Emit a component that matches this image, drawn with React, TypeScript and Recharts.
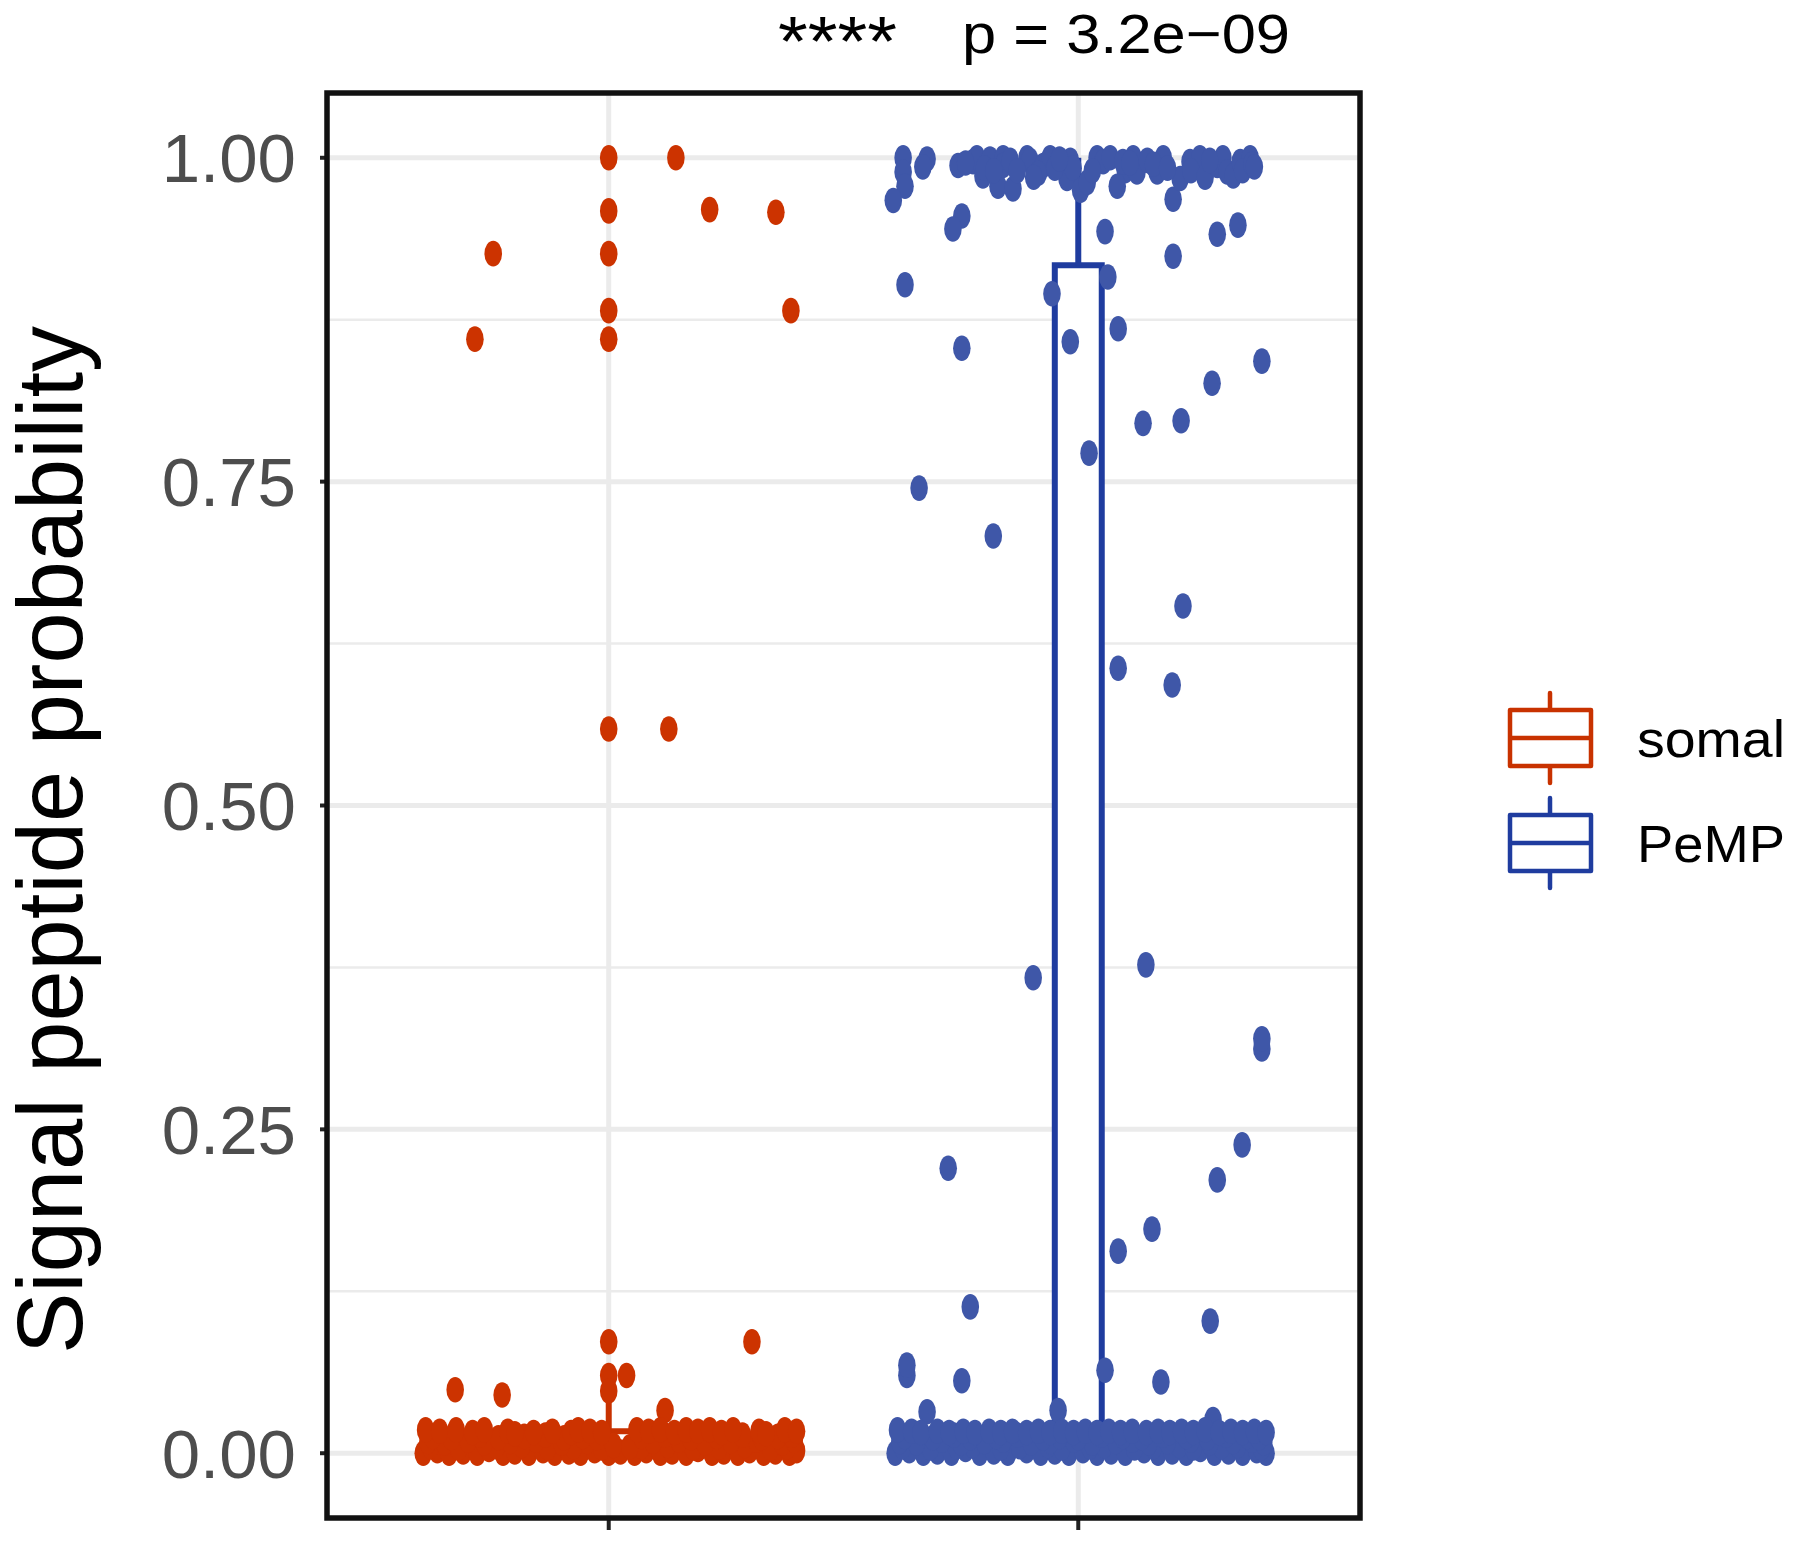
import React from "react";
import { ScatterChart, Scatter, XAxis, YAxis, ReferenceLine, ReferenceArea } from "recharts";

const FONT = '"Liberation Sans", Arial, Helvetica, sans-serif';

// groups and their x positions on the discrete axis
const categories = ["somal", "PeMP"];
const categoryPos = [1, 2];

// box plot stats per group
const boxLower = [0, 0];
const boxQ1 = [0.001, 0.002];
const boxMedian = [0.004, 0.01];
const boxQ3 = [0.017, 0.917];
const boxUpper = [0.048, 1.0];

const yTicks = [0, 0.25, 0.5, 0.75, 1];
const yMinor = [0.125, 0.375, 0.625, 0.875];

// jittered points [x, y]
const somalPoints: [number, number][] = [
  [1.0, 1.0], [1.143, 1.0], [1.0, 0.959], [1.215, 0.96], [1.356, 0.958], [0.754, 0.926], [1.0, 0.926],
  [1.0, 0.882], [1.388, 0.882], [0.715, 0.86], [1.0, 0.86], [1.0, 0.559], [1.128, 0.559],
  [1.0, 0.086], [1.305, 0.086], [1.0, 0.06], [1.038, 0.06], [1.0, 0.048], [0.673, 0.049], [0.773, 0.045], [1.12, 0.033],
  // dense band near zero
  [0.605, 0.0], [0.635, 0.002], [0.66, 0.0], [0.69, 0.001], [0.72, 0.0], [0.745, 0.003], [0.775, 0.0], [0.8, 0.001],
  [0.83, 0.0], [0.86, 0.002], [0.885, 0.0], [0.915, 0.001], [0.94, 0.0], [0.97, 0.002], [1.0, 0.0], [1.025, 0.001],
  [1.055, 0.0], [1.08, 0.002], [1.11, 0.0], [1.135, 0.001], [1.165, 0.0], [1.19, 0.003], [1.22, 0.0], [1.245, 0.001],
  [1.275, 0.0], [1.3, 0.002], [1.33, 0.0], [1.355, 0.001], [1.385, 0.0], [1.4, 0.002],
  [0.62, 0.005], [0.68, 0.004], [0.76, 0.005], [0.815, 0.006], [0.87, 0.004], [0.925, 0.005], [0.985, 0.004],
  [1.07, 0.005], [1.125, 0.006], [1.18, 0.004], [1.235, 0.005], [1.29, 0.006], [1.345, 0.004], [1.38, 0.005],
  [0.615, 0.009], [0.65, 0.008], [0.7, 0.01], [0.735, 0.008], [0.79, 0.009], [0.845, 0.01], [0.9, 0.008], [0.955, 0.009],
  [1.01, 0.006], [1.045, 0.005], [1.095, 0.009], [1.15, 0.01], [1.205, 0.008], [1.26, 0.009], [1.315, 0.01], [1.37, 0.008], [1.395, 0.01],
  [0.625, 0.013], [0.665, 0.012], [0.725, 0.014], [0.765, 0.012], [0.82, 0.013], [0.865, 0.014], [0.905, 0.012], [0.945, 0.013],
  [0.975, 0.012], [1.07, 0.013], [1.12, 0.014], [1.175, 0.012], [1.23, 0.013], [1.285, 0.014], [1.325, 0.012], [1.36, 0.013], [1.39, 0.014],
  [0.61, 0.018], [0.64, 0.017], [0.675, 0.018], [0.71, 0.016], [0.735, 0.018], [0.785, 0.017], [0.8, 0.015], [0.84, 0.016],
  [0.88, 0.017], [0.92, 0.016], [0.935, 0.018], [0.96, 0.017], [0.985, 0.016], [1.06, 0.018], [1.085, 0.017], [1.11, 0.018],
  [1.14, 0.016], [1.165, 0.018], [1.19, 0.017], [1.215, 0.018], [1.24, 0.016], [1.265, 0.018], [1.32, 0.017], [1.335, 0.015],
  [1.375, 0.018], [1.4, 0.017],
];

const pempPoints: [number, number][] = [
  // cluster near 1
  [1.627, 1.0], [1.627, 0.989], [1.631, 0.978], [1.606, 0.967], [1.678, 0.999], [1.669, 0.993], [1.744, 0.994], [1.752, 0.955], [1.733, 0.945],
  [1.776, 0.997], [1.784, 1.0], [1.797, 0.986], [1.812, 0.999], [1.829, 0.978], [1.84, 1.0], [1.84, 0.994], [1.855, 0.998], [1.861, 0.976],
  [1.891, 1.0], [1.897, 0.998], [1.925, 0.994], [1.94, 1.0], [1.8, 0.992], [1.87, 0.99], [1.915, 0.988],
  [1.976, 0.984], [1.983, 0.998], [1.989, 0.992], [2.005, 0.975],
  [2.019, 0.981], [2.04, 1.0], [2.053, 0.997], [2.068, 1.0], [2.1, 0.99],
  [2.083, 0.978], [2.095, 0.997], [2.117, 1.0], [2.125, 0.989], [2.147, 0.998], [2.168, 0.989], [2.181, 1.0], [2.16, 0.995],
  [2.202, 0.968], [2.202, 0.924], [2.217, 0.984], [2.238, 0.997], [2.259, 1.0], [2.24, 0.99], [2.27, 0.985],
  [2.296, 0.994], [2.308, 1.0], [2.317, 0.989], [2.33, 0.986], [2.345, 0.997], [2.366, 1.0], [2.35, 0.99], [2.37, 0.995],
  [1.76, 0.996], [1.82, 0.99], [1.95, 0.992], [2.03, 0.99], [2.11, 0.996], [2.19, 0.992], [2.28, 0.998], [2.375, 0.993],
  [1.905, 0.985], [1.96, 0.999],
  [2.057, 0.943], [2.296, 0.941], [2.34, 0.948],
  // spread
  [1.631, 0.902], [1.752, 0.853], [1.944, 0.895], [2.063, 0.908], [1.983, 0.858], [2.085, 0.868], [2.391, 0.843],
  [2.285, 0.826], [2.138, 0.795], [2.219, 0.797], [2.023, 0.772], [1.661, 0.745], [1.819, 0.708], [2.223, 0.654],
  [2.085, 0.606], [2.2, 0.593], [1.904, 0.367], [2.144, 0.377], [2.391, 0.312], [2.391, 0.32], [2.349, 0.238],
  [2.296, 0.211], [1.723, 0.22], [2.157, 0.173], [2.085, 0.156], [1.77, 0.113], [2.281, 0.102],
  [1.635, 0.06], [1.635, 0.068], [1.752, 0.056], [2.057, 0.064], [2.176, 0.055], [1.678, 0.032], [1.957, 0.033], [2.287, 0.026],
  // dense band near zero
  [1.61, 0.0], [1.64, 0.002], [1.67, 0.0], [1.7, 0.001], [1.73, 0.0], [1.76, 0.003], [1.79, 0.0], [1.82, 0.001],
  [1.85, 0.0], [1.89, 0.002], [1.92, 0.0], [1.95, 0.001], [1.98, 0.0], [2.01, 0.002], [2.04, 0.0], [2.07, 0.001],
  [2.1, 0.0], [2.14, 0.002], [2.17, 0.0], [2.2, 0.001], [2.23, 0.0], [2.26, 0.003], [2.29, 0.0], [2.32, 0.001],
  [2.35, 0.0], [2.38, 0.002], [2.4, 0.0],
  [1.625, 0.005], [1.685, 0.004], [1.74, 0.005], [1.775, 0.006], [1.835, 0.004], [1.875, 0.005], [1.935, 0.006], [1.965, 0.004],
  [2.025, 0.005], [2.055, 0.006], [2.12, 0.004], [2.16, 0.005], [2.215, 0.006], [2.245, 0.004], [2.305, 0.005], [2.34, 0.006], [2.39, 0.004],
  [1.62, 0.009], [1.655, 0.008], [1.71, 0.01], [1.75, 0.008], [1.8, 0.009], [1.84, 0.01], [1.9, 0.008], [1.94, 0.009],
  [1.99, 0.01], [2.03, 0.008], [2.08, 0.009], [2.115, 0.01], [2.15, 0.008], [2.19, 0.009], [2.24, 0.01], [2.28, 0.008],
  [2.33, 0.009], [2.37, 0.01], [2.395, 0.008],
  [1.63, 0.013], [1.69, 0.012], [1.735, 0.014], [1.77, 0.012], [1.825, 0.013], [1.87, 0.014], [1.925, 0.012], [1.96, 0.013],
  [2.0, 0.012], [2.05, 0.014], [2.095, 0.013], [2.135, 0.012], [2.18, 0.014], [2.23, 0.013], [2.275, 0.012], [2.315, 0.014],
  [2.36, 0.013], [2.385, 0.012],
  [1.615, 0.018], [1.645, 0.017], [1.665, 0.016], [1.7, 0.017], [1.725, 0.016], [1.755, 0.017], [1.78, 0.016], [1.81, 0.017],
  [1.835, 0.016], [1.86, 0.017], [1.89, 0.016], [1.915, 0.017], [1.94, 0.016], [1.965, 0.017], [1.99, 0.016], [2.015, 0.017],
  [2.04, 0.016], [2.065, 0.017], [2.09, 0.016], [2.115, 0.017], [2.145, 0.016], [2.17, 0.017], [2.195, 0.016], [2.22, 0.017],
  [2.245, 0.016], [2.27, 0.018], [2.3, 0.016], [2.325, 0.017], [2.35, 0.016], [2.375, 0.017], [2.4, 0.016],
];

const pointColors = ["#CC3300", "#3F57A8"];
const boxColors = ["#C83200", "#1F3C9F"];
const BOX_HALF = 0.05;

const toObjs = (arr: [number, number][]) => arr.map(([x, y]) => ({ x, y }));

const makeDot = (color: string) => (props: any) => {
  if (props.cx == null || props.cy == null) return <g />;
  return <ellipse cx={props.cx} cy={props.cy} rx={8.8} ry={12.8} fill={color} />;
};

export default function App() {
  return (
    <div style={{ position: "absolute", left: 0, top: 0, width: 1800, height: 1549, background: "#fff", overflow: "hidden" }}>
      <ScatterChart width={1800} height={1549} margin={{ top: 93, right: 440, bottom: 0, left: 0 }}>
        <XAxis
          type="number"
          dataKey="x"
          domain={[0.4, 2.6]}
          allowDataOverflow
          ticks={categoryPos}
          tickFormatter={() => ""}
          height={31}
          tickSize={12}
          axisLine={false}
          tickLine={{ stroke: "#222", strokeWidth: 4 }}
        />
        <YAxis
          type="number"
          dataKey="y"
          domain={[-0.05, 1.05]}
          allowDataOverflow
          ticks={yTicks}
          tickFormatter={(v: number) => v.toFixed(2)}
          width={327}
          tickSize={7}
          tickMargin={24}
          axisLine={false}
          tickLine={{ stroke: "#222", strokeWidth: 4 }}
          tick={{ fill: "#4D4D4D", fontSize: 69, fontFamily: FONT }}
        />
        {yMinor.map((v) => (
          <ReferenceLine key={`mn${v}`} y={v} stroke="#EBEBEB" strokeWidth={2.5} zIndex={-60} />
        ))}
        {yTicks.map((v) => (
          <ReferenceLine key={`mj${v}`} y={v} stroke="#EBEBEB" strokeWidth={5} zIndex={-50} />
        ))}
        {categoryPos.map((v) => (
          <ReferenceLine key={`vx${v}`} x={v} stroke="#EBEBEB" strokeWidth={5} zIndex={-50} />
        ))}
        {categoryPos.map((c, i) => (
          <ReferenceArea
            key={`box${i}`}
            x1={c - BOX_HALF}
            x2={c + BOX_HALF}
            y1={boxQ1[i]}
            y2={boxQ3[i]}
            fill="#fff"
            fillOpacity={1}
            stroke={boxColors[i]}
            strokeWidth={6}
            zIndex={100}
          />
        ))}
        {categoryPos.map((c, i) => (
          <ReferenceLine
            key={`wu${i}`}
            segment={[{ x: c, y: boxQ3[i] }, { x: c, y: boxUpper[i] }]}
            stroke={boxColors[i]}
            strokeWidth={6}
            zIndex={110}
          />
        ))}
        {categoryPos.map((c, i) => (
          <ReferenceLine
            key={`wl${i}`}
            segment={[{ x: c, y: boxLower[i] }, { x: c, y: boxQ1[i] }]}
            stroke={boxColors[i]}
            strokeWidth={6}
            zIndex={110}
          />
        ))}
        {categoryPos.map((c, i) => (
          <ReferenceLine
            key={`md${i}`}
            segment={[{ x: c - BOX_HALF, y: boxMedian[i] }, { x: c + BOX_HALF, y: boxMedian[i] }]}
            stroke={boxColors[i]}
            strokeWidth={6}
            zIndex={110}
          />
        ))}
        <Scatter name={categories[0]} data={toObjs(somalPoints)} shape={makeDot(pointColors[0])} isAnimationActive={false} />
        <Scatter name={categories[1]} data={toObjs(pempPoints)} shape={makeDot(pointColors[1])} isAnimationActive={false} />
        <ReferenceArea x1={0.4} x2={2.6} y1={-0.05} y2={1.05} fill="none" fillOpacity={0} stroke="#111" strokeWidth={5.5} zIndex={900} />
      </ScatterChart>
      <svg width={1800} height={1549} style={{ position: "absolute", left: 0, top: 0, pointerEvents: "none" }}>
        <text x={778} y={66} fontSize={70} textLength={119} lengthAdjust="spacingAndGlyphs" fontFamily={FONT} fill="#000">****</text>
        <text x={962} y={53} fontSize={56} textLength={328} lengthAdjust="spacingAndGlyphs" fontFamily={FONT} fill="#000">p = 3.2e−09</text>
        <text transform="translate(82,840) rotate(-90)" textAnchor="middle" fontSize={92} fontFamily={FONT} fill="#000">
          Signal peptide probability
        </text>
        {categories.map((name, i) => {
          const top = 710 + i * 105;
          return (
            <g key={name}>
              <line x1={1550} x2={1550} y1={top - 17} y2={top} stroke={boxColors[i]} strokeWidth={4.5} strokeLinecap="round" />
              <line x1={1550} x2={1550} y1={top + 56} y2={top + 73} stroke={boxColors[i]} strokeWidth={4.5} strokeLinecap="round" />
              <rect x={1510} y={top} width={81} height={56} fill="#fff" stroke={boxColors[i]} strokeWidth={4.5} strokeLinejoin="round" />
              <line x1={1510} x2={1591} y1={top + 28} y2={top + 28} stroke={boxColors[i]} strokeWidth={4.5} />
              <text x={1637} y={top + 47} fontSize={52} textLength={148} lengthAdjust="spacingAndGlyphs" fontFamily={FONT} fill="#000">{name}</text>
            </g>
          );
        })}
      </svg>
    </div>
  );
}
